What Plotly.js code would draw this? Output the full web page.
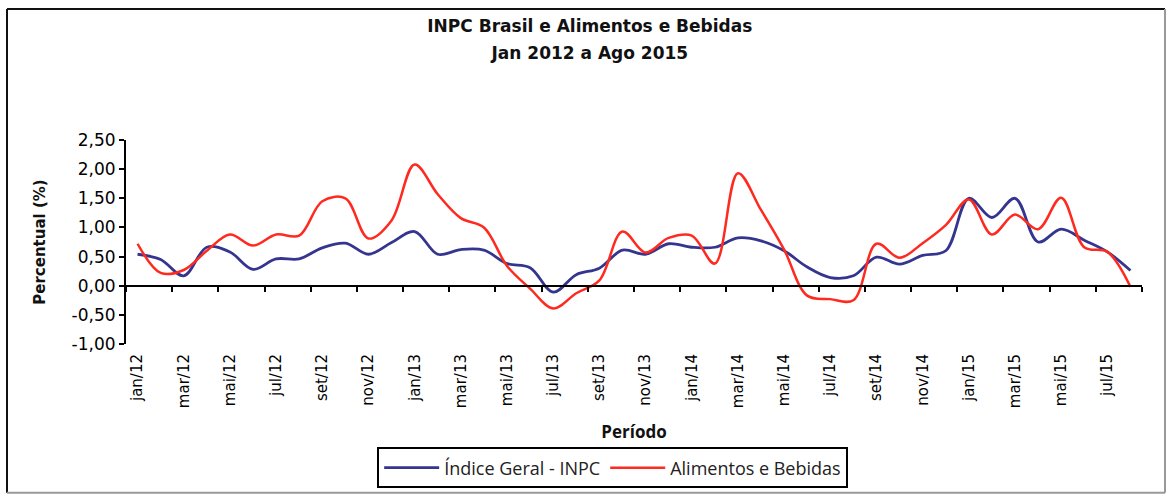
<!DOCTYPE html>
<html>
<head>
<meta charset="utf-8">
<script src="https://cdn.plot.ly/plotly-3.0.1.min.js"></script>
<style>html,body{margin:0;padding:0;background:#fff;}#chart{width:1168px;height:501px;}</style>
</head>
<body>
<div id="chart"></div>
<script>
const categories = [
  'jan/12','fev/12','mar/12','abr/12','mai/12','jun/12','jul/12','ago/12','set/12','out/12','nov/12','dez/12',
  'jan/13','fev/13','mar/13','abr/13','mai/13','jun/13','jul/13','ago/13','set/13','out/13','nov/13','dez/13',
  'jan/14','fev/14','mar/14','abr/14','mai/14','jun/14','jul/14','ago/14','set/14','out/14','nov/14','dez/14',
  'jan/15','fev/15','mar/15','abr/15','mai/15','jun/15','jul/15','ago/15'
];
const inpcGeral = [
  0.54, 0.45, 0.17, 0.66, 0.58, 0.28, 0.46, 0.46, 0.65, 0.73, 0.54, 0.74,
  0.93, 0.54, 0.62, 0.61, 0.38, 0.31, -0.11, 0.19, 0.30, 0.61, 0.54, 0.72,
  0.66, 0.66, 0.82, 0.77, 0.60, 0.32, 0.14, 0.17, 0.49, 0.37, 0.52, 0.60,
  1.50, 1.17, 1.50, 0.75, 0.97, 0.78, 0.58, 0.26
];
const alimentosBebidas = [
  0.72, 0.22, 0.27, 0.60, 0.88, 0.69, 0.88, 0.86, 1.45, 1.50, 0.81, 1.12,
  2.08, 1.57, 1.16, 1.00, 0.34, -0.05, -0.39, -0.13, 0.09, 0.93, 0.57, 0.82,
  0.86, 0.38, 1.93, 1.30, 0.62, -0.17, -0.23, -0.25, 0.72, 0.48, 0.73, 1.04,
  1.48, 0.88, 1.22, 0.97, 1.51, 0.66, 0.58, -0.02
];
const xTickLabels = [
  'jan/12','mar/12','mai/12','jul/12','set/12','nov/12',
  'jan/13','mar/13','mai/13','jul/13','set/13','nov/13',
  'jan/14','mar/14','mai/14','jul/14','set/14','nov/14',
  'jan/15','mar/15','mai/15','jul/15'
];
const yTickValues = [-1, -0.5, 0, 0.5, 1, 1.5, 2, 2.5];
const yTickLabels = yTickValues.map(v => v.toFixed(2).replace('.', ','));

const seriesNames = ['Índice Geral - INPC', 'Alimentos e Bebidas'];

// category boundaries (every 2 months) for the tick marks on the zero axis
const boundaries = [];
for (let k = 0; k <= categories.length; k += 2) boundaries.push(k - 0.5);

const traces = [
  {
    x: categories, y: inpcGeral, name: seriesNames[0], type: 'scatter', mode: 'lines',
    line: {color: '#35358f', width: 2.8, shape: 'spline', smoothing: 1}
  },
  {
    x: categories, y: alimentosBebidas, name: seriesNames[1], type: 'scatter', mode: 'lines',
    line: {color: '#ff2a1f', width: 2.5, shape: 'spline', smoothing: 1}
  },
  {
    x: [], y: [], xaxis: 'x2', yaxis: 'y', showlegend: false, hoverinfo: 'skip', mode: 'lines'
  }
];

const px = v => (v - 126) / 1016;
const py = v => (347 - v) / 207;

const layout = {
  width: 1168, height: 501,
  margin: {l: 126, r: 26, t: 140, b: 154},
  paper_bgcolor: '#ffffff', plot_bgcolor: '#ffffff',
  showlegend: true,
  title: {
    text: '<span style="font-size:17px">INPC Brasil e Alimentos e Bebidas</span><br><span style="font-size:17px">Jan 2012 a Ago 2015</span>',
    font: {family: 'DejaVu Sans', size: 21, color: '#111', weight: 'bold'},
    x: 0.505, xref: 'container', xanchor: 'center',
    y: (501 - 32) / 501, yref: 'container', yanchor: 'top'
  },
  xaxis: {
    type: 'category', range: [-0.5, categories.length - 0.5],
    tickmode: 'array', tickvals: xTickLabels, ticktext: xTickLabels,
    tickangle: -90, ticks: '', showline: false, showgrid: false, zeroline: false,
    tickfont: {family: 'DejaVu Sans', size: 15, color: '#000'},
    ticklabelstandoff: 6,
    title: {text: 'Período', font: {family: 'Open Sans', size: 17, color: '#111', weight: 'bold'}, standoff: 18}
  },
  xaxis2: {
    overlaying: 'x', anchor: 'free', position: 1 / 3.5,
    range: [-0.5, categories.length - 0.5],
    showline: true, linecolor: '#000', linewidth: 2,
    ticks: 'outside', ticklen: 5, tickwidth: 2, tickcolor: '#000',
    tickmode: 'array', tickvals: boundaries, showticklabels: false,
    showgrid: false, zeroline: false
  },
  yaxis: {
    range: [-1, 2.5], tickmode: 'array', tickvals: yTickValues, ticktext: yTickLabels,
    showline: true, linecolor: '#000', linewidth: 2,
    ticks: 'outside', ticklen: 5, tickwidth: 2, tickcolor: '#000',
    showgrid: false, zeroline: false,
    tickfont: {family: 'DejaVu Sans', size: 17, color: '#000'},
    title: {text: 'Percentual (%)', font: {family: 'DejaVu Sans', size: 15, color: '#111', weight: 'bold'}, standoff: 22}
  },
  legend: {
    orientation: 'h', x: 0.479, xanchor: 'center', y: py(452), yanchor: 'top',
    bordercolor: '#000', borderwidth: 2, bgcolor: '#fff',
    itemwidth: 55,
    font: {family: 'Open Sans', size: 18, color: '#222'}
  },
  shapes: [
    {type: 'line', xref: 'paper', yref: 'paper', x0: px(7), x1: px(7), y0: py(7), y1: py(498), line: {color: '#111', width: 2}},
    {type: 'line', xref: 'paper', yref: 'paper', x0: px(7), x1: px(1165), y0: py(7), y1: py(7), line: {color: '#111', width: 2}},
    {type: 'line', xref: 'paper', yref: 'paper', x0: px(1165), x1: px(1165), y0: py(7), y1: py(498), line: {color: '#999', width: 2}},
    {type: 'line', xref: 'paper', yref: 'paper', x0: px(7), x1: px(1165), y0: py(498), y1: py(498), line: {color: '#999', width: 2}}
  ]
};

Plotly.newPlot('chart', traces, layout, {displayModeBar: false, responsive: false, staticPlot: true});
</script>
</body>
</html>
